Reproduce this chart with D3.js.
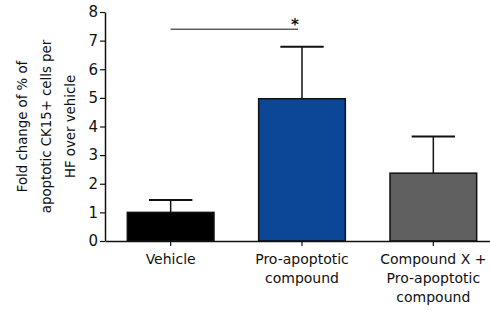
<!DOCTYPE html>
<html>
<head>
<meta charset="utf-8">
<script src="https://cdn.jsdelivr.net/npm/d3@7"></script>
<style>
  body { margin: 0; background: #fff; }
  text { font-family: "DejaVu Sans", Verdana, sans-serif; }
</style>
</head>
<body>
<div id="app"></div>
<script>
const groups = [
  ["Vehicle"],
  ["Pro-apoptotic", "compound"],
  ["Compound X +", "Pro-apoptotic", "compound"]
];
const means = [1.0, 4.97, 2.37];
const errors = [0.43, 1.82, 1.28];
const barColors = ["#000000", "#0b4697", "#606060"];
const yTicks = [0, 1, 2, 3, 4, 5, 6, 7, 8];
const yLabel = ["Fold change of % of", "apoptotic CK15+ cells per", "HF over vehicle"];
const sig = { from: 0, to: 1, y: 7.4, mark: "*" };

const w = 490, h = 311;
const margin = { left: 105, top: 12, bottom: 70 };

const svg = d3.select("#app").append("svg")
  .attr("width", w)
  .attr("height", h);

const x = d3.scaleBand()
  .domain(d3.range(groups.length))
  .range([margin.left, margin.left + 394])
  .paddingInner(0.34)
  .paddingOuter(0.17);

const y = d3.scaleLinear()
  .domain([0, 8])
  .range([h - margin.bottom, margin.top]);

// bars
svg.selectAll("rect.bar")
  .data(means)
  .enter()
  .append("rect")
  .attr("class", "bar")
  .attr("x", (d, i) => x(i))
  .attr("y", d => y(d))
  .attr("width", x.bandwidth())
  .attr("height", d => y(0) - y(d))
  .attr("fill", (d, i) => barColors[i])
  .attr("stroke", "#111")
  .attr("stroke-width", 1.5);

// error bars (upper only)
const cap = x.bandwidth() / 4;
means.forEach((m, i) => {
  const cx = x(i) + x.bandwidth() / 2;
  svg.append("line")
    .attr("x1", cx).attr("x2", cx)
    .attr("y1", y(m)).attr("y2", y(m + errors[i]))
    .attr("stroke", "#111").attr("stroke-width", 1.5);
  svg.append("line")
    .attr("x1", cx - cap).attr("x2", cx + cap)
    .attr("y1", y(m + errors[i])).attr("y2", y(m + errors[i]))
    .attr("stroke", "#111").attr("stroke-width", 2);
});

// axes
const yAxis = svg.append("g")
  .attr("transform", `translate(${margin.left},0)`)
  .call(d3.axisLeft(y).tickValues(yTicks).tickSize(5).tickPadding(2).tickSizeOuter(0));

const xAxis = svg.append("g")
  .attr("transform", `translate(0,${y(0)})`)
  .call(d3.axisBottom(x).tickSize(5).tickSizeOuter(0).tickFormat(""));

[yAxis, xAxis].forEach(g => {
  g.select(".domain").attr("stroke", "#111").attr("stroke-width", 1.5);
  g.selectAll(".tick line").attr("stroke", "#111").attr("stroke-width", 1.2);
});
yAxis.selectAll(".tick text")
  .attr("font-size", 15)
  .attr("font-family", "DejaVu Sans, Verdana, sans-serif")
  .attr("fill", "#111");

// x labels
groups.forEach((lines, i) => {
  const t = svg.append("text")
    .attr("text-anchor", "middle")
    .attr("font-size", 14)
    .attr("fill", "#111");
  lines.forEach((ln, j) => {
    t.append("tspan")
      .attr("x", x(i) + x.bandwidth() / 2)
      .attr("y", y(0) + 23 + j * 19)
      .text(ln);
  });
});

// y label
const yl = svg.append("text")
  .attr("transform", `translate(0,${(y(0) + y(8)) / 2}) rotate(-90)`)
  .attr("text-anchor", "middle")
  .attr("font-size", 13.3)
  .attr("fill", "#111");
yLabel.forEach((ln, j) => {
  yl.append("tspan")
    .attr("x", 0)
    .attr("y", 27 + j * 24)
    .text(ln);
});

// significance line
const sx1 = x(sig.from) + x.bandwidth() / 2;
const sx2 = x(sig.to) + x.bandwidth() / 2 - 4;
svg.append("line")
  .attr("x1", sx1).attr("x2", sx2)
  .attr("y1", y(sig.y)).attr("y2", y(sig.y))
  .attr("stroke", "#111").attr("stroke-width", 1);
svg.append("text")
  .attr("x", sx2 - 3)
  .attr("y", y(sig.y) + 1)
  .attr("text-anchor", "middle")
  .attr("font-size", 15)
  .attr("font-weight", "bold")
  .attr("fill", "#111")
  .text(sig.mark);
</script>
</body>
</html>
